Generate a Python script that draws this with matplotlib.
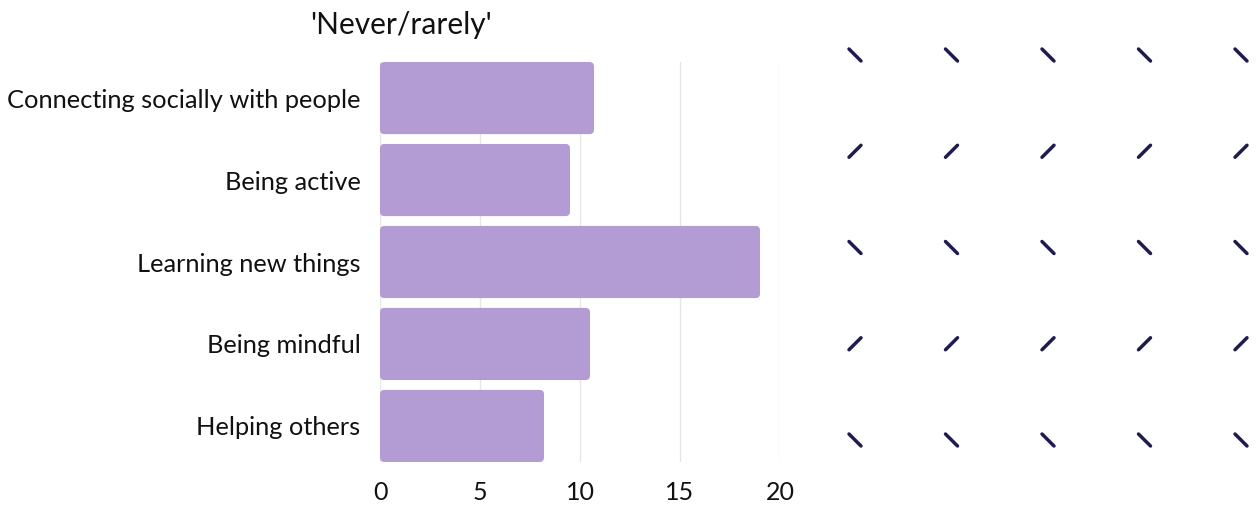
import matplotlib
matplotlib.use('Agg')
import matplotlib.pyplot as plt
from matplotlib.patches import FancyBboxPatch
import numpy as np

# Data
categories = ['Connecting socially with people', 'Being active', 'Learning new things',
              'Being mindful', 'Helping others']
values = [10.7, 9.5, 19.0, 10.5, 8.2]
x_ticks = [0, 5, 10, 15, 20]
title = "'Never/rarely'"

# decorative dash pattern on the right: rows alternate direction
pattern_dirs = [-1, 1, -1, 1, -1]   # -1 = "\", 1 = "/"
pattern_cols = 5

plt.rcParams['font.family'] = ['Lato', 'DejaVu Sans']

W, H = 1256, 505
fig = plt.figure(figsize=(W / 100, H / 100), dpi=100)
ax = fig.add_axes([380 / W, 1 - 462 / H, 400 / W, 400 / H])

y = np.arange(len(categories))
bars = ax.barh(y, values, height=0.88, color='#b39bd4', zorder=2)

# swap plain bars for rounded ones
for b in bars:
    x0, y0 = b.get_x(), b.get_y()
    w, h = b.get_width(), b.get_height()
    b.set_visible(False)
    ax.add_patch(FancyBboxPatch((x0, y0), w, h,
                                boxstyle='round,pad=0,rounding_size=0.22',
                                mutation_aspect=0.245, facecolor='#b39bd4',
                                edgecolor='none', zorder=2))

ax.set_xlim(0, 20)
ax.set_ylim(len(categories) - 0.56, -0.44)
ax.set_yticks(y)
ax.set_yticklabels(categories, fontsize=18.3, color='#111111')
ax.set_xticks(x_ticks)
ax.set_xticklabels([str(t) for t in x_ticks], fontsize=18, color='#111111')
ax.tick_params(axis='both', length=0)
ax.tick_params(axis='y', pad=14)
ax.tick_params(axis='x', pad=14)
ax.grid(True, axis='x', color='#e6e6e6', linewidth=1, zorder=0)
for s in ax.spines.values():
    s.set_visible(False)

fig.text(401 / W, 1 - 25 / H, title, ha='center', va='center', fontsize=21.5, color='#111111')

# decorative dashes
deco = fig.add_axes([0, 0, 1, 1], facecolor='none')
deco.set_xlim(0, W)
deco.set_ylim(H, 0)
deco.axis('off')
col_x = np.linspace(855, 1241, pattern_cols)
row_y = np.linspace(55, 440, len(pattern_dirs))
half = 6.0
for ry, d in zip(row_y, pattern_dirs):
    for cx in col_x:
        deco.plot([cx - half, cx + half], [ry + d * half, ry - d * half],
                  color='#1f1a4f', linewidth=2.5, solid_capstyle='round')

plt.savefig('out.png', dpi=100)
plt.close()
